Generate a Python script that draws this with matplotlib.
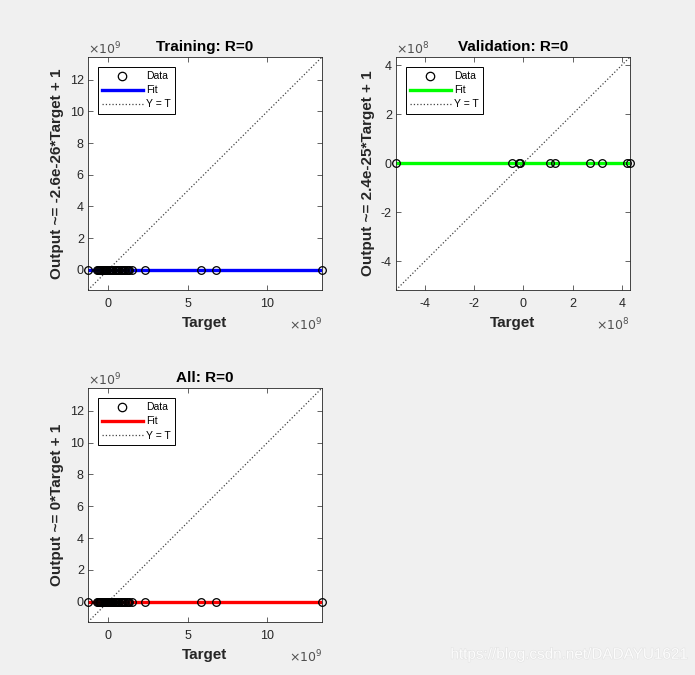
import numpy as np
import matplotlib
matplotlib.use('Agg')
import matplotlib.pyplot as plt
from matplotlib.ticker import MultipleLocator, FuncFormatter
import matplotlib.patheffects as pe

plt.rcParams['font.family'] = ['Liberation Sans', 'DejaVu Sans']

# targets (training in 1e9, validation in 1e8)
train_target = [-1.27, -0.73, -0.66, -0.6, -0.53, -0.46, -0.4, -0.33, -0.26, -0.2, -0.12,
                -0.05, 0.02, 0.1, 0.17, 0.25, 0.32, 0.4, 0.47, 0.55, 0.62, 0.7, 0.78, 0.85,
                0.93, 1.0, 1.08, 1.15, 1.24, 1.32, 1.47, 2.3, 5.8, 6.76, 13.43]
val_target = [-5.18, -0.47, -0.17, -0.13, 1.08, 1.29, 2.71, 3.19, 4.2, 4.33]

train_t = [v * 1e9 for v in train_target]
val_t = [v * 1e8 for v in val_target]
all_t = train_t + val_t

# network output is constant 1 for every sample
train_y = [1.0] * len(train_t)
val_y = [1.0] * len(val_t)
all_y = [1.0] * len(all_t)

panels = [
    ('Training: R=0', 'Output ~= -2.6e-26*Target + 1', train_t, train_y, -2.6e-26, 1, (0, 0, 1), 1e9, 5, 2, '9'),
    ('Validation: R=0', 'Output ~= 2.4e-25*Target + 1', val_t, val_y, 2.4e-25, 1, (0, 1, 0), 1e8, 2, 2, '8'),
    ('All: R=0', 'Output ~= 0*Target + 1', all_t, all_y, 0, 1, (1, 0, 0), 1e9, 5, 2, '9'),
]

positions = [
    [88 / 695, 1 - 290 / 675, 234 / 695, 233 / 675],
    [396 / 695, 1 - 290 / 675, 234 / 695, 233 / 675],
    [88 / 695, 1 - 622 / 675, 234 / 695, 234 / 675],
]

fig = plt.figure(figsize=(6.95, 6.75), dpi=100)
fig.patch.set_facecolor('#f0f0f0')
axc = '#262626'

for (title, ylab, t, y, a, b, col, scale, xstep, ystep, ex), pos in zip(panels, positions):
    ax = fig.add_axes(pos)
    lo = min(min(t), min(y))
    hi = max(max(t), max(y))
    ax.plot(t, y, 'o', mfc='none', mec='black', ms=5.5, mew=0.9, label='Data',
            zorder=4, clip_on=False)
    ax.plot([lo, hi], [a * lo + b, a * hi + b], color=col, lw=2.4, label='Fit', zorder=2)
    ax.plot([lo, hi], [lo, hi], ':', color='#444444', lw=0.9, label='Y = T', zorder=1)
    ax.set_xlim(lo, hi)
    ax.set_ylim(lo, hi)

    fmt = FuncFormatter(lambda v, p, s=scale: f'{v / s:g}')
    ax.xaxis.set_major_locator(MultipleLocator(xstep * scale))
    ax.yaxis.set_major_locator(MultipleLocator(ystep * scale))
    ax.xaxis.set_major_formatter(fmt)
    ax.yaxis.set_major_formatter(fmt)
    ax.tick_params(direction='in', top=True, right=True, length=3.5, width=0.5,
                   colors=axc, labelsize=9)
    ax.tick_params(axis='x', pad=6)
    ax.tick_params(axis='y', pad=3)
    for sp in ax.spines.values():
        sp.set_color(axc)
        sp.set_linewidth(0.6)

    ax.set_title(title, fontsize=11, fontweight='bold', pad=4)
    ax.set_xlabel('Target', fontsize=11, fontweight='bold', color=axc, labelpad=4)
    ax.set_ylabel(ylab, fontsize=11, fontweight='bold', color=axc, labelpad=4)

    ax.text(0, 1.0, r'$\times10^{' + ex + '}$', transform=ax.transAxes,
            fontsize=9, color='#505050', ha='left', va='bottom')
    ax.text(1, -0.115, r'$\times10^{' + ex + '}$', transform=ax.transAxes,
            fontsize=9, color='#505050', ha='right', va='top')

    leg = ax.legend(loc='upper left', bbox_to_anchor=(10 / 234, 1 - 10 / 233),
                    borderaxespad=0, fontsize=7.5, frameon=True, fancybox=False,
                    handlelength=3.9, handletextpad=0.3, labelspacing=0.4,
                    borderpad=0.4, framealpha=1, markerscale=1.1)
    leg.get_frame().set_edgecolor('black')
    leg.get_frame().set_linewidth(0.7)

fig.text(0.988, 0.03, 'https://blog.csdn.net/DADAYU1621', ha='right', va='center',
         fontsize=11, color='#fcfcfc',
         path_effects=[pe.withStroke(linewidth=0.8, foreground='#e2e2e2')])

fig.savefig('out.png', dpi=100, facecolor=fig.get_facecolor())
